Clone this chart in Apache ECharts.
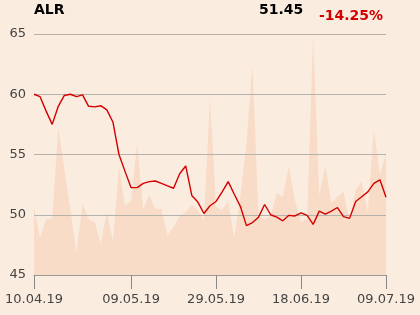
<!DOCTYPE html>
<html><head><meta charset="utf-8">
<script src="https://cdn.jsdelivr.net/npm/echarts@6/dist/echarts.min.js"></script>
<style>html,body{margin:0;padding:0;background:#fbece0;}#c{width:420px;height:315px;}</style>
</head><body><div id="c"></div>
<script>
const dates = ['10.04.19','11.04.19','12.04.19','15.04.19','16.04.19','17.04.19','18.04.19','23.04.19','24.04.19','25.04.19','26.04.19','29.04.19','30.04.19','06.05.19','07.05.19','08.05.19','09.05.19',
'10.05.19','13.05.19','14.05.19','15.05.19','16.05.19','17.05.19','20.05.19','21.05.19','22.05.19','23.05.19','24.05.19','27.05.19','28.05.19','29.05.19',
'30.05.19','31.05.19','03.06.19','04.06.19','05.06.19','06.06.19','07.06.19','10.06.19','11.06.19','12.06.19','13.06.19','14.06.19','17.06.19','18.06.19',
'19.06.19','21.06.19','24.06.19','25.06.19','26.06.19','27.06.19','28.06.19','01.07.19','02.07.19','03.07.19','04.07.19','05.07.19','08.07.19','09.07.19'];
const price = [60.0,59.8,58.6,57.5,59.0,59.9,60.0,59.8,59.95,59.0,58.95,59.05,58.7,57.7,55.0,53.6,52.25,52.25,52.6,52.75,52.8,52.6,52.4,52.2,53.4,54.05,51.6,51.05,50.1,50.75,51.1,51.9,52.75,51.7,50.7,49.1,49.35,49.8,50.85,50.0,49.8,49.5,49.95,49.9,50.15,49.95,49.2,50.3,50.05,50.3,50.6,49.85,49.7,51.1,51.5,51.9,52.6,52.9,51.45];
const volumeShape = [50.6,48.1,49.6,49.7,57.2,53.8,50.4,46.85,50.95,49.6,49.4,47.6,50.25,47.85,54.0,50.7,51.2,55.9,50.4,51.65,50.45,50.5,48.3,49.0,49.9,50.2,50.8,50.4,49.55,59.7,50.65,50.4,51.1,48.05,51.5,55.9,62.4,49.85,49.6,49.9,51.8,51.5,54.0,51.2,49.4,49.7,64.9,51.6,54.05,50.95,51.5,51.9,49.4,52.1,52.75,50.25,57.05,53.3,55.1];
const tickIdx = [0,16,30,44,58];
const yTicks = [45,50,55,60,65];
const headTicker = 'ALR', headPrice = '51.45', headChange = '-14.25%';

const chart = echarts.init(document.getElementById('c'));
const showTick = (i) => tickIdx.indexOf(i) >= 0;
chart.setOption({
  backgroundColor: '#fbece0',
  animation: false,
  textStyle: {fontFamily: 'DejaVu Sans'},
  grid: {left: 34, right: 34, top: 34, bottom: 40},
  xAxis: {
    type: 'category', data: dates, boundaryGap: false, z: 3,
    axisLine: {lineStyle: {color: '#999999', width: 1}},
    axisTick: {interval: showTick, length: 14, lineStyle: {color: '#888888'}},
    axisLabel: {interval: showTick, color: '#444444', fontSize: 13, margin: 18, fontFamily: 'DejaVu Sans'},
    splitLine: {show: false}
  },
  yAxis: {
    type: 'value', min: yTicks[0], max: yTicks[yTicks.length-1], interval: 5, z: 3,
    axisLine: {show: false}, axisTick: {show: false},
    axisLabel: {color: '#444444', fontSize: 13, margin: 8, fontFamily: 'DejaVu Sans'},
    splitLine: {lineStyle: {color: '#b5b1ad', width: 1}}
  },
  series: [
    {type: 'line', data: volumeShape, symbol: 'none', z: 1,
     lineStyle: {width: 0}, areaStyle: {color: '#f8dcc7', opacity: 1, origin: 'start'}},
    {type: 'line', data: price, symbol: 'none', z: 5,
     lineStyle: {color: '#d40000', width: 1.4}}
  ],
  graphic: [
    {type: 'text', left: 34, top: 3, style: {text: headTicker, font: 'bold 14px "DejaVu Sans"', fill: '#000'}},
    {type: 'text', left: 259, top: 3, style: {text: headPrice, font: 'bold 14px "DejaVu Sans"', fill: '#000'}},
    {type: 'text', left: 319, top: 9, style: {text: headChange, font: 'bold 14px "DejaVu Sans"', fill: '#d40000'}}
  ]
});
</script></body></html>
